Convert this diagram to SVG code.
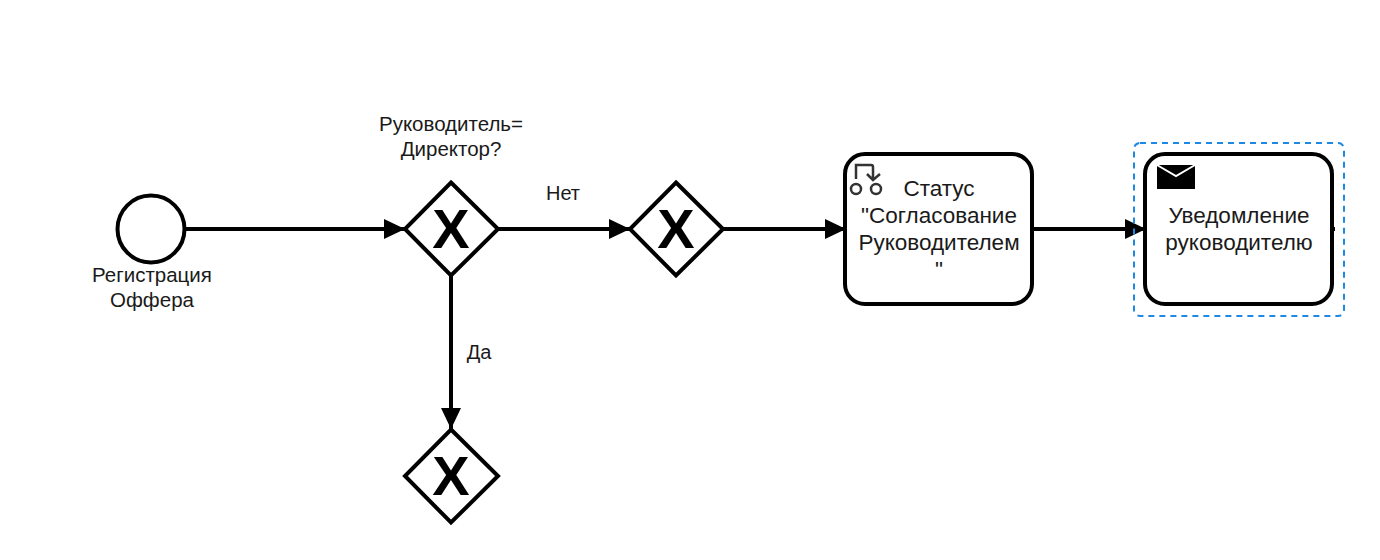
<svg xmlns="http://www.w3.org/2000/svg" width="1380" height="560" viewBox="0 0 1380 560">
<style>
text{font-family:"Liberation Sans",Arial,sans-serif;font-size:20.5px;fill:#1a1a1a;text-anchor:middle}
.lbl{font-size:20px}
.tk{font-size:22.5px}
.gw{fill:#fff;stroke:#000;stroke-width:4;stroke-linejoin:miter}
.x{font-family:"Liberation Sans",Arial,sans-serif;font-weight:bold;font-size:56px;fill:#000}
.task{fill:#fff;stroke:#000;stroke-width:4}
.flow{fill:none;stroke:#000;stroke-width:4}
.ic{fill:none;stroke:#333;stroke-width:2.500}
</style>
<defs>
<marker id="arr" markerUnits="userSpaceOnUse" markerWidth="22" markerHeight="24" refX="21" refY="11" orient="auto"><path d="M0 1L21 11L0 21Z" fill="#000"/></marker>
</defs>
<rect width="1380" height="560" fill="#fff"/>
<g id="connectors">
<path class="flow" d="M186 229H405" marker-end="url(#arr)"/>
<path class="flow" d="M498 229H630" marker-end="url(#arr)"/>
<path class="flow" d="M723 229H846" marker-end="url(#arr)"/>
<path class="flow" d="M1033 229H1146" marker-end="url(#arr)"/>
<path class="flow" d="M451 276V429" marker-end="url(#arr)"/>
<path class="flow" d="M1332 229H1335" stroke-width="2"/>
<text class="lbl" x="563" y="200">Нет</text>
<text class="lbl" x="479" y="359">Да</text>
</g>
<g id="start">
<circle cx="151" cy="229" r="33.500" fill="#fff" stroke="#000" stroke-width="4"/>
<text x="152" y="282">Регистрация</text>
<text x="152" y="307">Оффера</text>
</g>
<g id="gateway1">
<path class="gw" d="M451 182.500L498 229L451 275.500L405 229Z"/>
<text class="x" x="451" y="248">X</text>
<text x="451" y="131">Руководитель=</text>
<text x="451" y="156">Директор?</text>
</g>
<g id="gateway2">
<path class="gw" d="M676 182.500L723 229L676 275.500L630 229Z"/>
<text class="x" x="676" y="248">X</text>
</g>
<g id="gateway3">
<path class="gw" d="M451 429.500L498 476L451 522.500L405 476Z"/>
<text class="x" x="451" y="495">X</text>
</g>
<g id="task-status">
<rect class="task" x="845" y="154" width="187" height="150" rx="20"/>
<path class="ic" d="M856 179V165H871Q873 165 873 167V179M867 174L873 180L880 174"/>
<circle class="ic" cx="856" cy="189" r="5"/>
<circle class="ic" cx="876" cy="189" r="5"/>
<text class="tk" x="939" y="196">Статус</text>
<text class="tk" x="939" y="223">"Согласование</text>
<text class="tk" x="939" y="250">Руководителем</text>
<text class="tk" x="939" y="277">"</text>
</g>
<g id="task-notify">
<rect x="1134" y="143" width="210" height="173" rx="6" fill="none" stroke="#1e88e5" stroke-width="2" stroke-dasharray="6 5"/>
<rect class="task" x="1145" y="154" width="187" height="150" rx="20"/>
<path d="M1157 165H1195V189H1157Z" fill="#000"/>
<path d="M1157 165L1176 176L1195 165" fill="none" stroke="#fff" stroke-width="2"/>
<text class="tk" x="1239" y="223">Уведомление</text>
<text class="tk" x="1239" y="250">руководителю</text>
</g>
</svg>
